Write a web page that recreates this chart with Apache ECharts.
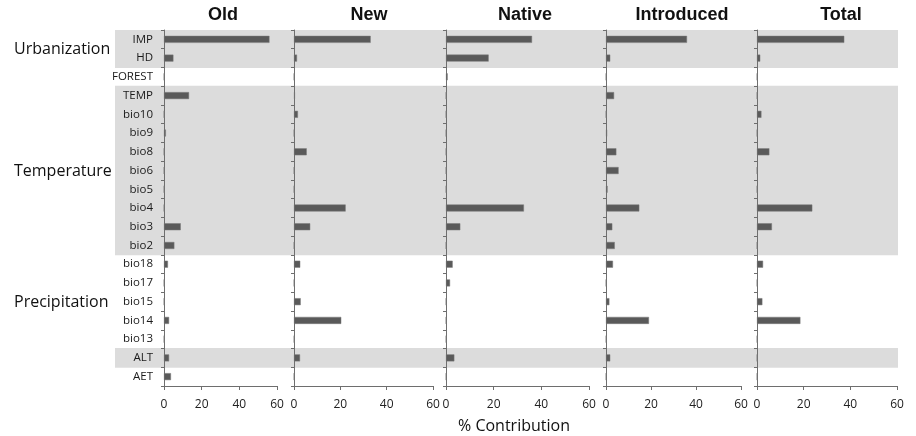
<!DOCTYPE html>
<html><head><meta charset="utf-8">
<script src="https://cdn.jsdelivr.net/npm/echarts@6/dist/echarts.min.js"></script>
<style>html,body{margin:0;padding:0;background:#fff}#c{width:916px;height:436px}</style>
</head><body><div id="c"></div>
<script>
const categories = ['IMP','HD','FOREST','TEMP','bio10','bio9','bio8','bio6','bio5','bio4','bio3','bio2','bio18','bio17','bio15','bio14','bio13','ALT','AET'];
const panelTitles = ['Old','New','Native','Introduced','Total'];
const oldVals = [56, 5, 0, 13.3, 0, 1, 0, 0, 0, 0, 8.9, 5.5, 2.1, 0, 0, 2.7, 0, 2.7, 3.7];
const newVals = [33.1, 1.3, 0, 0.4, 1.7, 0, 5.5, 0, 0, 22.3, 7.0, 0, 2.7, 0, 2.9, 20.4, 0, 2.6, 0];
const nativeVals = [36.1, 17.9, 0.7, 0, 0, 0, 0, 0, 0, 32.7, 6.0, 0, 2.8, 1.7, 0, 0, 0, 3.5, 0];
const introducedVals = [36, 1.9, 0, 3.6, 0, 0.5, 4.6, 5.6, 0.7, 14.8, 2.8, 3.9, 3.1, 0, 1.5, 19.1, 0, 1.9, 0];
const totalVals = [37.4, 1.4, 0, 0, 1.9, 0, 5.3, 0, 0, 23.7, 6.4, 0, 2.6, 0, 2.3, 18.6, 0, 0, 0];
const xTicks = [0, 20, 40, 60];
const groupNames = ['Urbanization','Temperature','Precipitation'];
const groupFirst = ['IMP','TEMP','bio18'];
const groupLast = ['HD','bio2','bio13'];
const shadedRows = ['IMP','HD','TEMP','bio10','bio9','bio8','bio6','bio5','bio4','bio3','bio2','ALT'];
const xTitle = '% Contribution';

const allVals = [oldVals, newVals, nativeVals, introducedVals, totalVals];
const layout = [
  {left:164, width:113, tx:223},
  {left:294, width:139, tx:369},
  {left:446, width:143, tx:525},
  {left:606, width:135, tx:682},
  {left:757, width:140, tx:841}
];
const TOP = 30, HEIGHT = 356;
const axisCol = '#6e6e6e';
const grids = [], xAxes = [], yAxes = [], series = [];
layout.forEach((L, i) => {
  grids.push({left:L.left, width:L.width, top:TOP, height:HEIGHT});
  xAxes.push({type:'value', gridIndex:i, min:xTicks[0], max:xTicks[xTicks.length-1], interval:xTicks[1]-xTicks[0],
    axisLine:{show:true, lineStyle:{color:axisCol}}, axisTick:{show:true, length:4, lineStyle:{color:axisCol}},
    splitLine:{show:false},
    axisLabel:{color:'#222', fontSize:12, fontFamily:'Open Sans', margin:13}});
  yAxes.push({type:'category', gridIndex:i, data:categories, inverse:true,
    axisLine:{show:true, lineStyle:{color:axisCol}}, axisTick:{show:true, length:3, lineStyle:{color:axisCol}},
    axisLabel:{show:i===0, color:'#1a1a1a', fontSize:11.5, fontFamily:'Open Sans', margin:11}, z:3});
  series.push({type:'bar', xAxisIndex:i, yAxisIndex:i, data:allVals[i], barWidth:7,
    itemStyle:{color:'#5a5a5a', borderColor:'#7a7a7a', borderWidth:0.5}, z:4, silent:true});
});
// background band grid
const bg = grids.length;
grids.push({left:115, right:18, top:TOP, height:HEIGHT});
xAxes.push({type:'value', gridIndex:bg, min:0, max:1, show:false});
yAxes.push({type:'category', gridIndex:bg, data:categories, inverse:true, show:false});
series.push({type:'bar', xAxisIndex:bg, yAxisIndex:bg, barWidth:19.6, silent:true, z:-1,
  data:categories.map(c => shadedRows.includes(c) ? 1 : '-'),
  itemStyle:{color:'#dcdcdc'}});

const chart = echarts.init(document.getElementById('c'), null, {renderer:'canvas'});
chart.setOption({animation:false, grid:grids, xAxis:xAxes, yAxis:yAxes, series:series});

const graphics = [];
layout.forEach((L, i) => {
  graphics.push({type:'text', x:L.tx, y:15, style:{text:panelTitles[i], fontFamily:'Liberation Sans, Arial', fontWeight:'bold', fontSize:18, fill:'#111', textAlign:'center', textVerticalAlign:'middle'}});
});
groupNames.forEach((g, k) => {
  const y1 = chart.convertToPixel({yAxisIndex:bg}, groupFirst[k]);
  const y2 = chart.convertToPixel({yAxisIndex:bg}, groupLast[k]);
  graphics.push({type:'text', x:14, y:(y1+y2)/2 + 1, style:{text:g, fontFamily:'Open Sans', fontSize:16, fill:'#111', textAlign:'left', textVerticalAlign:'middle'}});
});
graphics.push({type:'text', x:514, y:426, style:{text:xTitle, fontFamily:'Open Sans', fontSize:16, fill:'#111', textAlign:'center', textVerticalAlign:'middle'}});
chart.setOption({graphic:graphics});
</script></body></html>
